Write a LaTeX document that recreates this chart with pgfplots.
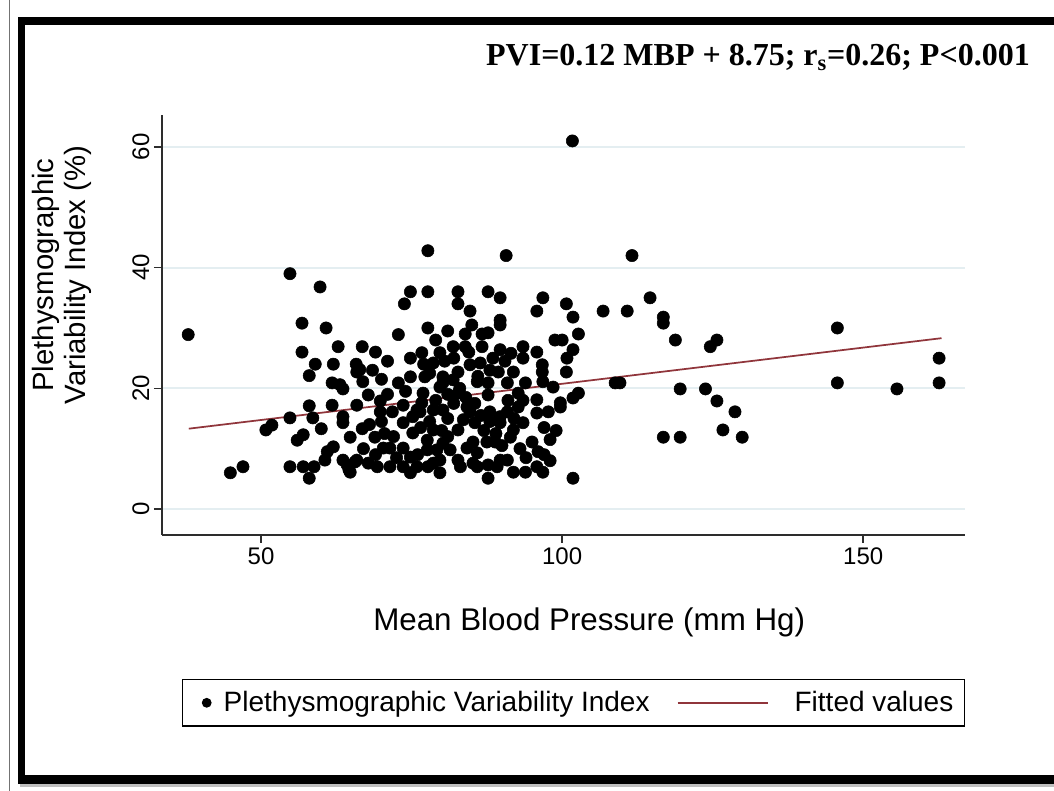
\documentclass[border=0pt]{standalone}
\usepackage{pgfplots}
\pgfplotsset{compat=1.18}
\usepackage{fontspec}
\setmainfont{Liberation Sans}
\newfontfamily\titlefont{Liberation Serif}
\definecolor{fitred}{RGB}{144,53,59}
\definecolor{gridc}{RGB}{228,238,241}
\definecolor{axisc}{RGB}{45,45,45}
\pgfplotstableread{
x y
37.9 28.9
54.8 39.0
59.8 36.8
56.8 30.8
60.8 30.0
62.8 26.9
66.8 26.9
56.8 26.0
59.0 24.0
62.0 24.0
65.8 24.0
66.4 23.1
66.9 21.1
58.0 22.1
61.8 20.9
63.6 19.9
67.8 18.9
69.8 17.9
72.8 20.9
72.8 28.9
73.8 34.0
74.8 36.0
77.7 42.8
77.7 36.0
77.7 30.0
74.8 25.0
76.7 25.9
79.7 25.9
78.6 24.2
74.8 21.9
76.9 19.2
78.6 16.4
78.6 13.1
75.9 16.4
73.6 17.2
69.8 16.1
71.8 16.1
65.9 17.2
61.8 17.2
58.0 17.1
58.6 15.1
60.0 13.3
63.6 15.3
63.6 14.3
64.8 11.9
66.8 13.3
68.9 11.9
56.0 11.4
57.0 12.3
51.8 13.9
50.8 13.1
54.8 15.1
61.0 9.5
62.0 10.3
60.6 8.1
54.8 7.0
57.0 7.0
58.8 7.0
58.0 5.1
44.9 6.0
47.0 7.0
63.6 8.1
64.6 6.5
65.9 8.1
67.8 7.6
70.3 10.1
71.4 10.1
73.6 10.1
69.3 7.0
71.4 7.0
73.6 7.0
74.8 6.0
75.9 7.0
77.6 9.8
78.6 7.6
79.7 6.0
80.2 10.9
73.6 14.3
75.2 12.6
77.6 11.4
75.2 15.3
76.7 17.6
80.2 16.4
79.7 20.2
80.2 21.9
64.8 6.1
64.3 7.3
65.6 7.8
65.9 22.7
63.1 20.6
90.7 42.0
82.7 36.0
87.7 36.0
89.7 35.0
82.7 34.0
84.7 32.8
96.8 35.0
95.8 32.8
100.7 34.0
101.8 31.8
89.7 31.3
89.7 30.5
83.9 29.0
86.7 29.0
87.7 29.2
98.8 28.0
100.0 28.0
102.7 29.0
81.9 26.9
83.9 26.9
86.7 26.9
89.7 26.4
93.5 26.9
95.8 26.0
101.8 26.4
100.8 25.0
100.7 22.7
93.5 25.0
96.7 23.9
96.7 22.7
88.5 25.0
86.4 24.2
84.7 23.9
82.7 22.7
77.2 21.9
80.2 20.9
81.9 21.4
85.9 21.1
87.7 20.9
89.4 22.7
91.9 22.7
90.9 20.9
93.9 20.9
96.8 21.1
98.5 20.2
92.7 19.2
95.8 18.1
99.7 17.6
101.8 18.4
102.7 19.2
82.7 19.2
87.7 18.9
92.7 16.9
95.8 15.9
97.7 16.1
99.7 16.9
76.4 16.1
84.2 16.9
84.7 16.1
88.0 16.1
89.7 15.3
90.9 16.1
83.6 14.8
85.5 14.3
89.7 14.3
93.5 14.3
82.7 13.1
91.9 13.1
95.0 11.1
85.2 11.1
87.5 11.1
88.9 11.1
91.4 11.9
74.8 8.6
79.2 9.8
81.4 9.8
84.2 10.1
85.9 9.3
79.7 8.1
82.7 8.1
85.2 7.6
87.7 7.3
89.7 8.1
90.9 8.1
77.7 7.0
83.1 7.0
85.9 7.0
89.2 7.0
91.9 6.1
93.9 6.1
95.8 7.0
96.8 6.1
87.7 5.1
101.8 5.1
101.7 61.0
111.6 42.0
114.6 35.0
106.8 32.8
110.8 32.8
116.8 31.8
116.8 30.8
118.8 28.0
124.6 26.9
125.7 28.0
145.7 30.0
108.8 20.9
109.6 20.9
119.6 19.9
123.8 19.9
125.7 17.9
128.7 16.1
126.7 13.1
129.9 11.9
116.8 11.9
119.6 11.9
145.7 20.9
155.6 19.9
162.6 25.0
162.6 20.9
70.5 12.5
72.0 12.0
70.0 14.5
68.0 14.0
67.0 10.0
69.0 9.0
72.5 8.5
76.0 9.0
76.5 13.5
78.0 14.5
80.0 13.0
81.0 12.0
81.0 15.0
82.0 17.5
83.0 20.0
84.0 18.5
85.5 17.5
86.5 15.5
87.0 13.0
88.0 14.5
89.0 12.5
90.0 10.5
91.0 18.0
92.0 15.0
93.0 10.0
94.0 8.5
97.0 9.0
98.0 8.0
86.0 22.0
88.0 23.0
90.5 24.5
91.5 25.8
80.5 24.5
82.0 25.0
84.5 26.0
79.0 28.0
81.0 29.5
85.0 30.5
78.0 22.5
77.0 24.0
81.0 19.0
79.0 18.0
74.0 19.5
71.0 19.0
70.0 21.5
68.5 23.0
71.0 24.5
69.0 26.0
93.5 18.0
97.0 13.5
98.0 11.5
99.0 13.0
96.0 9.5
}\pvidata
\begin{document}
\begin{tikzpicture}
\useasboundingbox (0,0) rectangle (790.5pt,593.25pt);
\fill[white] (0,0) rectangle (790.5pt,593.25pt);
% page-edge line and frame
\draw[black!55, line width=0.7pt] (7pt,0) -- (7pt,593.25pt);
\fill[black!25] (15pt,3pt) rectangle (800pt,6pt);
\fill[black] (13.5pt,5.25pt) rectangle (800pt,580.5pt);
\fill[white] (18.75pt,12pt) rectangle (800pt,574.5pt);
% title
\node[anchor=base east, inner sep=0pt, font=\titlefont\bfseries\fontsize{24}{28}\selectfont]
  at (772.5pt,543.75pt) {PVI=0.12 MBP + 8.75; r\textsubscript{s}=0.26; P<0.001};
\begin{axis}[
  at={(121.5pt,192pt)}, anchor=south west,
  width=602.25pt, height=315pt, scale only axis,
  xmin=33.55, xmax=166.9, ymin=-4.31, ymax=65.3,
  axis x line*=bottom, axis y line*=left,
  axis line style={axisc, line width=1.4pt, -},
  xtick={50,100,150}, ytick={0,20,40,60},
  tick align=outside, major tick length=6pt,
  tick style={axisc, line width=1.2pt},
  ymajorgrids, grid style={gridc, line width=1.5pt},
  /pgf/number format/assume math mode=true,
  ticklabel style={font=\fontsize{18}{21}\selectfont},
  yticklabel style={rotate=90, anchor=south},
  xlabel={Mean Blood Pressure (mm Hg)},
  xlabel style={font=\fontsize{23.5}{27}\selectfont, at={(axis description cs:0.532,-0.207)}, anchor=center},
  ylabel={Plethysmographic\\Variability Index (\%)},
  ylabel style={font=\fontsize{22}{23.5}\selectfont, align=center, at={(axis description cs:-0.1245,0.619)}, anchor=center},
  legend columns=2,
  legend style={at={(axis description cs:0.5125,-0.343)}, anchor=north,
    draw=black, line width=0.9pt, inner xsep=0pt, inner ysep=9pt,
    nodes={inner sep=0pt}, column sep=0pt,
    font=\fontsize{21}{25}\selectfont},
  legend cell align=left,
]
\addplot[only marks, mark=*, mark size=4.6pt, mark options={fill=black, draw=black},
  legend image code/.code={\path[draw=none,fill=none] (0pt,-6pt) rectangle (30.75pt,6pt); \fill[black] (18pt,0pt) circle (3.2pt);}]
  table[x=x, y=y] {\pvidata};
\addlegendentry{Plethysmographic Variability Index}
\addplot[fitred, line width=1.3pt, no marks,
  legend image code/.code={\path[draw=none,fill=none] (0pt,-6pt) rectangle (108.75pt,6pt); \draw[fitred, line width=1.3pt] (21pt,0pt) -- (88.5pt,0pt);}]
  coordinates {(38,13.31) (163,28.31)};
\addlegendentry{Fitted values\hspace*{8.25pt}}
\end{axis}
\end{tikzpicture}
\end{document}
